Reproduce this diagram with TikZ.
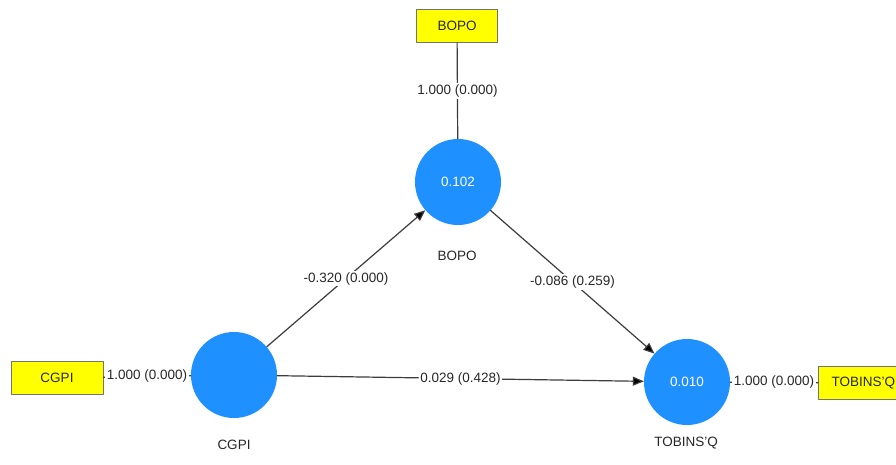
\documentclass[tikz,border=0pt]{standalone}
\usepackage{fontspec}
\setmainfont{Liberation Sans}
\usetikzlibrary{arrows.meta}
\definecolor{lvblue}{RGB}{30,144,255}
\definecolor{indyellow}{RGB}{255,255,0}
\definecolor{linegray}{RGB}{60,60,60}
\definecolor{txtgray}{RGB}{40,40,40}

\begin{document}
\begin{tikzpicture}[line cap=round,line join=round,>={Triangle[length=11pt,width=9pt,fill=black]},x=1pt,y=-1pt,
  latent/.style={circle,fill=lvblue,minimum size=86pt,inner sep=0pt,text=white,font=\fontsize{13.5}{15}\selectfont},
  indicator/.style={rectangle,fill=indyellow,draw=black!55,line width=0.8pt,minimum height=33pt,inner xsep=8pt,text=txtgray,font=\fontsize{13.5}{15}\selectfont},
  coef/.style={fill=white,inner sep=1.5pt,text=txtgray,font=\fontsize{13.5}{15}\selectfont},
  lvname/.style={text=txtgray,font=\fontsize{13.5}{15}\selectfont},
  path/.style={draw=linegray,line width=1.2pt}]
\useasboundingbox[fill=white] (0,0) rectangle (896,464);
% latent variables
\node[latent] (bopo) at (458,182) {0.102};
\node[latent] (cgpi) at (234,375) {};
\node[latent] (tobq) at (687,382) {0.010};
\node[lvname] (bopoName) at (457,256) {BOPO};
\node[lvname] (cgpiName) at (234,445) {CGPI};
\node[lvname] (tobqName) at (686,443) {TOBINS'Q};
% indicators
\node[indicator,minimum width=81pt] (bopoInd) at (457,26) {BOPO};
\node[indicator,minimum width=92pt] (cgpiInd) at (57,378) {CGPI};
\node[indicator,anchor=west,minimum width=90pt] (tobqInd) at (818,383) {TOBINS'Q};
% outer loadings
\draw[path] (bopoInd) -- node[coef] {1.000 (0.000)} (bopo);
\draw[path] (cgpiInd) -- node[coef] {1.000 (0.000)} (cgpi);
\draw[path] (tobqInd) -- node[coef] {1.000 (0.000)} (tobq);
% structural paths
\draw[path,->] (cgpi) -- node[coef] {-0.320 (0.000)} (bopo);
\draw[path,->] (bopo) -- node[coef] {-0.086 (0.259)} (tobq);
\draw[path,->] (cgpi) -- node[coef] {0.029 (0.428)} (tobq);
\end{tikzpicture}
\end{document}
